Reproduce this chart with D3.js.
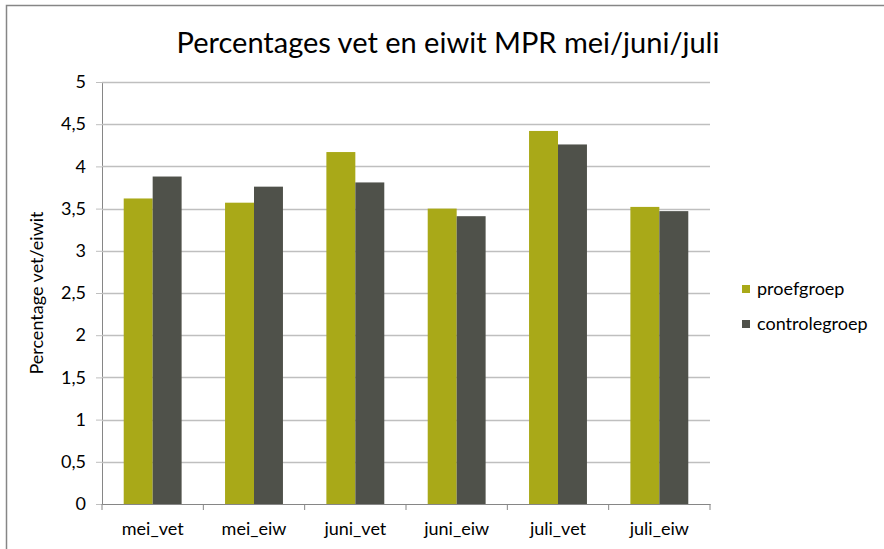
<!DOCTYPE html>
<html>
<head>
<meta charset="utf-8">
<script src="https://cdn.jsdelivr.net/npm/d3@7"></script>
<style>
	body { margin: 0; background: #fff; }
	svg text { font-family: Lato, "Open Sans", sans-serif; fill: #000; }
</style>
</head>
<body>
<div id="chart"></div>
<script>

/***********************************************************************/
//Data
/***********************************************************************/
const categories = ['mei_vet', 'mei_eiw', 'juni_vet', 'juni_eiw', 'juli_vet', 'juli_eiw']
const seriesNames = ['proefgroep', 'controlegroep']
const proefgroep = [3.62, 3.57, 4.17, 3.50, 4.42, 3.52]
const controlegroep = [3.88, 3.76, 3.81, 3.41, 4.26, 3.47]
const yTickValues = [0, 0.5, 1, 1.5, 2, 2.5, 3, 3.5, 4, 4.5, 5]

const colors = ['#a9a918', '#4f514a']

const rows = categories.map((cat, i) => ({
	cat,
	values: [proefgroep[i], controlegroep[i]]
}))

/***********************************************************************/
//Plot Area
/***********************************************************************/
const width = 884
const height = 549
const margin = { left: 102, right: 174, top: 82, bottom: 45 }
const plotW = width - margin.left - margin.right
const plotH = height - margin.top - margin.bottom

const svg = d3.select('#chart').append('svg')
	.attr('width', width)
	.attr('height', height)

// chart border
svg.append('rect')
	.attr('x', 6.5).attr('y', 5.5)
	.attr('width', width).attr('height', height)
	.attr('fill', 'none')
	.attr('stroke', '#868686')
	.attr('stroke-width', 1.5)

svg.append('text')
	.attr('x', 448)
	.attr('y', 53)
	.attr('text-anchor', 'middle')
	.attr('font-size', '29px')
	.text('Percentages vet en eiwit MPR mei/juni/juli')

const g = svg.append('g')
	.attr('transform', 'translate(' + margin.left + ',' + margin.top + ')')

/***********************************************************************/
//Scale
/***********************************************************************/
const xScale = d3.scaleBand()
	.domain(categories)
	.range([0, plotW])

const inner = d3.scaleBand()
	.domain(seriesNames)
	.range([0, xScale.bandwidth()])
	.paddingInner(0)
	.paddingOuter(0.75)

const yScale = d3.scaleLinear()
	.domain([0, 5])
	.range([plotH, 0])

/***********************************************************************/
//Axes
/***********************************************************************/
const fmt = d => String(d).replace('.', ',')

const yAxis = d3.axisLeft(yScale)
	.tickValues(yTickValues)
	.tickFormat(fmt)
	.tickSize(6)
	.tickPadding(10)

const yAxisG = g.append('g').call(yAxis)
yAxisG.select('.domain').attr('stroke', '#868686')
yAxisG.selectAll('.tick line').attr('stroke', '#bfbfbf')
yAxisG.selectAll('.tick text')
	.attr('font-size', '18px')
	.attr('font-family', 'Lato, sans-serif')
	.attr('fill', '#000')

// gridlines
g.append('g')
	.selectAll('line')
	.data(yTickValues.filter(d => d > 0))
	.join('line')
	.attr('x1', 0)
	.attr('x2', plotW)
	.attr('y1', d => Math.round(yScale(d)) + 0.5)
	.attr('y2', d => Math.round(yScale(d)) + 0.5)
	.attr('stroke', '#bfbfbf')
	.attr('stroke-width', 1.5)

/***********************************************************************/
//Bars
/***********************************************************************/
g.append('g')
	.selectAll('g')
	.data(rows)
	.join('g')
	.attr('transform', d => 'translate(' + xScale(d.cat) + ',0)')
	.selectAll('rect')
	.data(d => d.values.map((v, i) => ({ name: seriesNames[i], v, i })))
	.join('rect')
	.attr('x', d => inner(d.name))
	.attr('width', inner.bandwidth())
	.attr('y', d => yScale(d.v))
	.attr('height', d => plotH - yScale(d.v))
	.attr('fill', d => colors[d.i])

const xAxis = d3.axisBottom(xScale)
	.tickSize(0)
	.tickPadding(18)

const xAxisG = g.append('g')
	.attr('transform', 'translate(0,' + plotH + ')')
	.call(xAxis)
xAxisG.select('.domain').attr('stroke', '#868686').attr('stroke-width', 1.2)
xAxisG.selectAll('.tick text')
	.attr('font-size', '18px')
	.attr('font-family', 'Lato, sans-serif')
	.attr('fill', '#000')

// category separators
xAxisG.append('g')
	.selectAll('line')
	.data(categories.map(c => xScale(c)).concat([plotW]))
	.join('line')
	.attr('x1', d => d).attr('x2', d => d)
	.attr('y1', 0).attr('y2', 6)
	.attr('stroke', '#868686')

// axis title
svg.append('text')
	.attr('transform', 'translate(43,' + (margin.top + plotH / 2) + ') rotate(-90)')
	.attr('text-anchor', 'middle')
	.attr('font-size', '18px')
	.text('Percentage vet/eiwit')

/***********************************************************************/
//Legend
/***********************************************************************/
const legend = svg.append('g')
	.attr('transform', 'translate(742,285)')

const li = legend.selectAll('g')
	.data(seriesNames)
	.join('g')
	.attr('transform', (d, i) => 'translate(0,' + i * 35 + ')')

li.append('rect')
	.attr('width', 8).attr('height', 8)
	.attr('fill', (d, i) => colors[i])

li.append('text')
	.attr('x', 15)
	.attr('y', 4)
	.attr('dy', '0.35em')
	.attr('font-size', '18px')
	.text(d => d)

</script>
</body>
</html>
